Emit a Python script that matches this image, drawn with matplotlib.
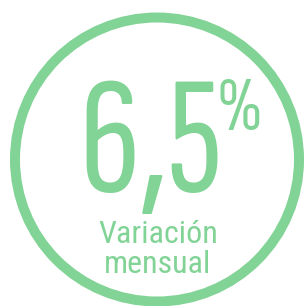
import matplotlib.pyplot as plt
from matplotlib.patches import Circle

value = "6,5"
unit = "%"
label_lines = ["Variación", "mensual"]
green = "#82d396"

fig = plt.figure(figsize=(3.04, 3.06), dpi=100)
ax = fig.add_axes([0, 0, 1, 1])
ax.set_xlim(0, 304)
ax.set_ylim(306, 0)
ax.axis("off")

ax.add_patch(Circle((157, 159.5), 142, fill=False, ec=green, lw=7.2))

big = ["Sofia Sans Extra Condensed", "Roboto Condensed", "DejaVu Sans"]
small = ["Roboto Condensed", "DejaVu Sans"]
ax.text(151, 192, value, fontsize=122, color=green, family=big,
        ha="center", va="baseline")
ax.text(239, 130, unit, fontsize=56, color=green, family=big,
        ha="center", va="baseline")
ax.text(158, 243, label_lines[0], fontsize=23, color=green, family=small,
        ha="center", va="baseline")
ax.text(158, 273, label_lines[1], fontsize=23, color=green, family=small,
        ha="center", va="baseline")

fig.savefig("out.png", dpi=100)
